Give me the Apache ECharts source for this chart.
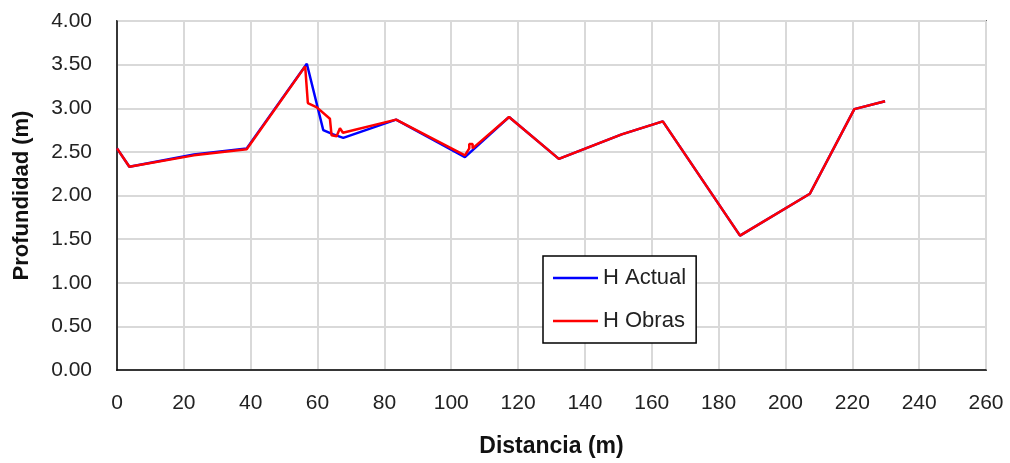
<!DOCTYPE html>
<html>
<head>
<meta charset="utf-8">
<script src="https://cdn.jsdelivr.net/npm/echarts@6/dist/echarts.min.js"></script>
<style>
  html, body { margin: 0; padding: 0; background: #fff; }
  #chart { width: 1010px; height: 463px; }
</style>
</head>
<body>
<div id="chart"></div>
<script>
// distancia (m) / profundidad (m)
var hActual = [
  [0, 2.54], [3.7, 2.33], [23, 2.47], [38.8, 2.54], [56.8, 3.51], [61.7, 2.75],
  [64.7, 2.70], [67.7, 2.66], [83.5, 2.87], [104.1, 2.44], [117.3, 2.90],
  [132.2, 2.42], [151, 2.70], [163.3, 2.85], [186.4, 1.54], [207.3, 2.02],
  [220.6, 2.99], [229.8, 3.08]
];
var hObras = [
  [0, 2.54], [3.7, 2.33], [23, 2.46], [38.8, 2.53], [56.3, 3.48], [57.1, 3.06],
  [59.8, 3.01], [63.7, 2.88], [64.2, 2.69], [65.7, 2.68], [66.7, 2.77],
  [67.6, 2.72], [83.5, 2.87], [104.1, 2.46], [105.4, 2.54], [105.4, 2.59],
  [106.4, 2.59], [106.4, 2.54], [117.3, 2.90], [132.2, 2.42], [151, 2.70],
  [163.3, 2.85], [186.4, 1.54], [207.3, 2.02], [220.6, 2.99], [229.8, 3.08]
];
var serieNames = ['H Actual', 'H Obras'];

var chart = echarts.init(document.getElementById('chart'));
chart.setOption({
  animation: false,
  backgroundColor: '#fff',
  grid: {
    left: 117, right: 24, top: 21, bottom: 92,
    show: true, borderColor: '#000', borderWidth: 1.5
  },
  legend: {
    data: serieNames,
    orient: 'vertical',
    left: 543, top: 256,
    padding: [11, 10, 11, 10],
    itemGap: 21,
    itemWidth: 45,
    itemHeight: 2.5,
    icon: 'rect',
    borderColor: '#000',
    borderWidth: 1.5,
    backgroundColor: '#fff',
    textStyle: { fontFamily: 'Liberation Sans, Arial', fontSize: 22, color: '#222' }
  },
  xAxis: {
    type: 'value',
    min: 0, max: 260, interval: 20,
    name: 'Distancia (m)',
    nameLocation: 'middle',
    nameGap: 65,
    nameTextStyle: { fontFamily: 'Liberation Sans, Arial', fontWeight: 'bold', fontSize: 23, color: '#111' },
    axisLine: { lineStyle: { color: '#000', width: 1.5 } },
    axisTick: { show: false },
    axisLabel: { fontFamily: 'Liberation Sans, Arial', fontSize: 21, color: '#222', margin: 23 },
    splitLine: { lineStyle: { color: '#d9d9d9', width: 2 } }
  },
  yAxis: {
    type: 'value',
    min: 0, max: 4, interval: 0.5,
    name: 'Profundidad (m)',
    nameLocation: 'middle',
    nameGap: 84,
    nameTextStyle: { fontFamily: 'Liberation Sans, Arial', fontWeight: 'bold', fontSize: 22, color: '#111' },
    axisLine: { show: true, lineStyle: { color: '#000', width: 1.5 } },
    axisTick: { show: false },
    axisLabel: {
      fontFamily: 'Liberation Sans, Arial', fontSize: 21, color: '#222', margin: 25,
      formatter: function (v) { return v.toFixed(2); }
    },
    splitLine: { lineStyle: { color: '#d9d9d9', width: 2 } }
  },
  series: [
    {
      name: serieNames[0], type: 'line', data: hActual, symbol: 'none',
      lineStyle: { color: '#0000ff', width: 2.5 }, itemStyle: { color: '#0000ff' }
    },
    {
      name: serieNames[1], type: 'line', data: hObras, symbol: 'none',
      lineStyle: { color: '#ff0000', width: 2.5 }, itemStyle: { color: '#ff0000' }
    }
  ]
});
</script>
</body>
</html>
